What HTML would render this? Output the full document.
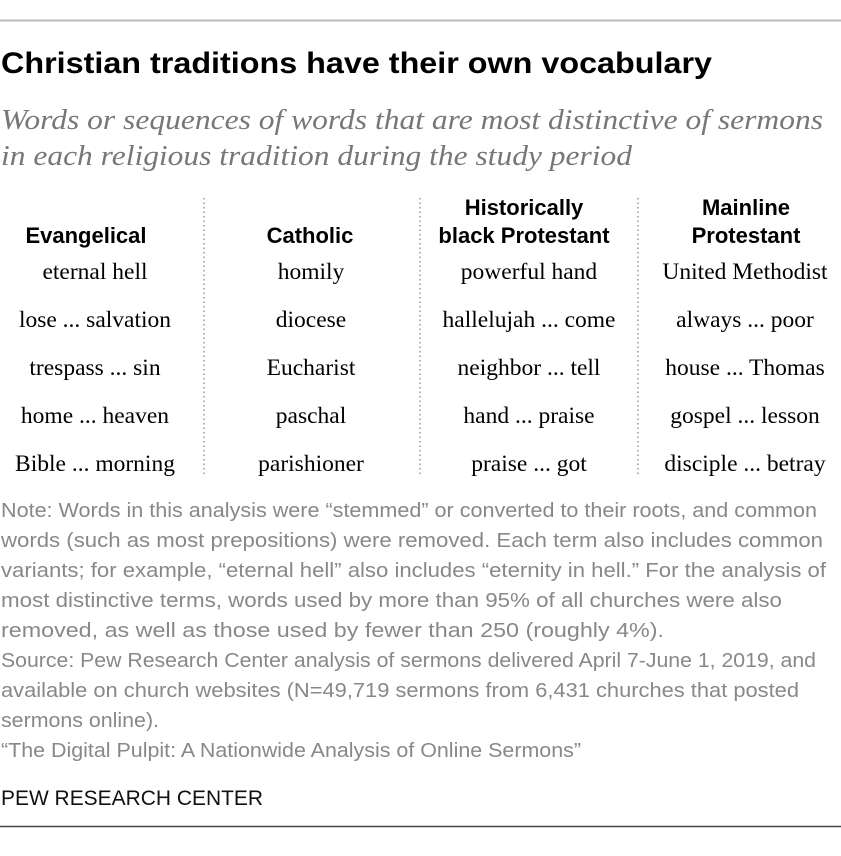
<!DOCTYPE html>
<html><head><meta charset="utf-8"><style>
body{margin:0;background:#fff;}
svg{display:block;}
.t{font-family:"Liberation Sans",sans-serif;}
.s{font-family:"Liberation Serif",serif;}
</style></head><body>
<svg width="841" height="856" viewBox="0 0 841 856">
<line x1="0" y1="20.5" x2="841" y2="20.5" stroke="#bbb" stroke-width="2"/>
<text class="t" x="1" y="73" font-size="30" font-weight="bold" fill="#000" textLength="711" lengthAdjust="spacingAndGlyphs">Christian traditions have their own vocabulary</text>
<g class="s" font-style="italic" font-size="28" fill="#777">
<text x="1" y="129" textLength="822" lengthAdjust="spacingAndGlyphs">Words or sequences of words that are most distinctive of sermons</text>
<text x="1" y="165" textLength="631" lengthAdjust="spacingAndGlyphs">in each religious tradition during the study period</text>
</g>
<g stroke="#999" stroke-width="1.5" stroke-dasharray="1.5 3">
<line x1="204" y1="198" x2="204" y2="476"/>
<line x1="420" y1="198" x2="420" y2="476"/>
<line x1="638" y1="198" x2="638" y2="476"/>
</g>
<g id="table"></g>
<g class="t" font-size="20" fill="#888">
<text x="1" y="517" textLength="816" lengthAdjust="spacingAndGlyphs">Note: Words in this analysis were “stemmed” or converted to their roots, and common</text>
<text x="1" y="547" textLength="822" lengthAdjust="spacingAndGlyphs">words (such as most prepositions) were removed. Each term also includes common</text>
<text x="1" y="577" textLength="825" lengthAdjust="spacingAndGlyphs">variants; for example, “eternal hell” also includes “eternity in hell.” For the analysis of</text>
<text x="1" y="607" textLength="781" lengthAdjust="spacingAndGlyphs">most distinctive terms, words used by more than 95% of all churches were also</text>
<text x="1" y="637" textLength="663" lengthAdjust="spacingAndGlyphs">removed, as well as those used by fewer than 250 (roughly 4%).</text>
</g>
<g class="t" font-size="20" fill="#888">
<text x="1" y="667" textLength="815" lengthAdjust="spacingAndGlyphs">Source: Pew Research Center analysis of sermons delivered April 7-June 1, 2019, and</text>
<text x="1" y="697" textLength="798" lengthAdjust="spacingAndGlyphs">available on church websites (N=49,719 sermons from 6,431 churches that posted</text>
<text x="1" y="727" textLength="158" lengthAdjust="spacingAndGlyphs">sermons online).</text>
<text x="1" y="757" textLength="580" lengthAdjust="spacingAndGlyphs">“The Digital Pulpit: A Nationwide Analysis of Online Sermons”</text>
</g>
<text class="t" x="1" y="805" font-size="21" fill="#111" textLength="262" lengthAdjust="spacingAndGlyphs">PEW RESEARCH CENTER</text>
<line x1="0" y1="826.5" x2="841" y2="826.5" stroke="#444" stroke-width="1.5"/>
</svg>
<script>
const headers=[["Evangelical"],["Catholic"],["Historically","black Protestant"],["Mainline","Protestant"]];
const words=[
["eternal hell","lose ... salvation","trespass ... sin","home ... heaven","Bible ... morning"],
["homily","diocese","Eucharist","paschal","parishioner"],
["powerful hand","hallelujah ... come","neighbor ... tell","hand ... praise","praise ... got"],
["United Methodist","always ... poor","house ... Thomas","gospel ... lesson","disciple ... betray"]];
const headX=[86,310,524,746], wordX=[95,311,529,745];
const NS="http://www.w3.org/2000/svg";
const g=document.getElementById('table');
headers.forEach((h,i)=>{
  h.forEach((line,j)=>{
    const t=document.createElementNS(NS,'text');
    
    
    t.setAttribute('x',headX[i]);
    t.setAttribute('y',243-(h.length-1-j)*28);
    t.setAttribute('text-anchor','middle');
    t.setAttribute('class','t');
    t.setAttribute('font-size','22');
    t.setAttribute('font-weight','bold');
    t.textContent=line;g.appendChild(t);
  });
  words[i].forEach((w,k)=>{
    const t=document.createElementNS(NS,'text');
    
    
    t.setAttribute('x',wordX[i]);
    t.setAttribute('y',279+k*48);
    t.setAttribute('text-anchor','middle');
    t.setAttribute('class','s');
    t.setAttribute('font-size','23.5');
    t.textContent=w;g.appendChild(t);
  });
});
</script>
</body></html>
